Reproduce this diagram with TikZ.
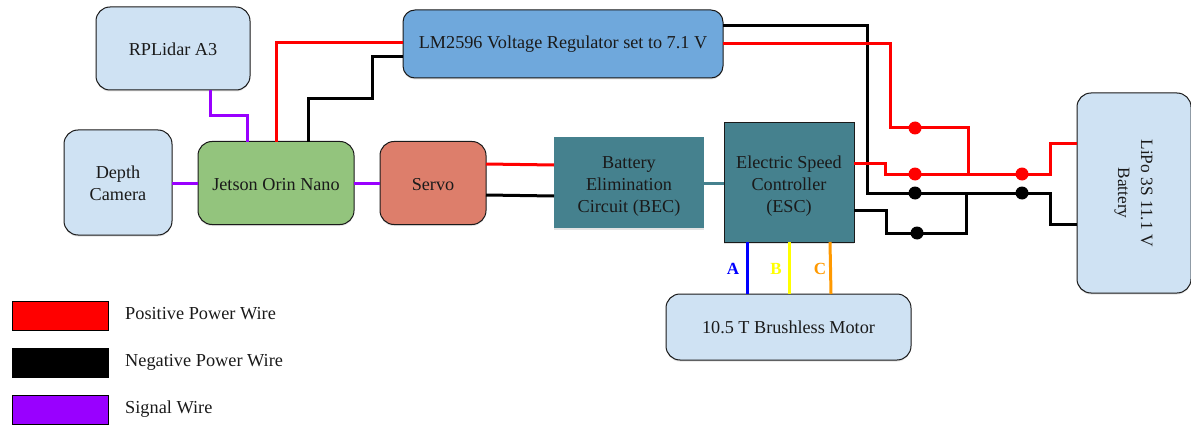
\documentclass[tikz,border=0pt]{standalone}
\usepackage{fontspec}
\setmainfont{Liberation Serif}
\usetikzlibrary{shadows,calc}
\definecolor{lblue}{HTML}{CFE2F3}
\definecolor{jgreen}{HTML}{93C47D}
\definecolor{servoc}{HTML}{DD7E6B}
\definecolor{lmblue}{HTML}{6FA8DC}
\definecolor{teal2}{HTML}{45818E}
\definecolor{sigc}{HTML}{9900FF}
\definecolor{ink}{HTML}{1A1A1A}
\definecolor{orangew}{HTML}{FF9900}
\definecolor{yelw}{HTML}{FFFF00}
\definecolor{bluew}{HTML}{0000FF}
\newcommand{\dnrule}[1]{\rule{0pt}{#1}}
\tikzset{
  boxbase/.style={draw=ink,line width=1pt,rounded corners=14pt,text=ink,align=center,inner sep=0pt,
    font=\fontsize{18.2}{22}\selectfont,
    drop shadow={shadow xshift=0pt,shadow yshift=-1.5pt,opacity=.22}},
  sharpbox/.style={boxbase,rounded corners=0pt,fill=teal2},
  wire/.style={line width=3pt,line join=miter},
  redw/.style={wire,draw=red},
  blkw/.style={wire,draw=black},
  sigw/.style={wire,draw=sigc},
  jdot/.style={circle,inner sep=0pt,minimum size=13pt},
  legbox/.style={draw=black,line width=1pt,minimum width=96pt,minimum height=29pt,inner sep=0pt},
  legtxt/.style={anchor=west,text=ink,font=\fontsize{18.3}{20}\selectfont,inner sep=0pt},
  phase/.style={font=\fontsize{17}{18}\selectfont\bfseries,inner sep=0pt},
}
\begin{document}
\begin{tikzpicture}[x=1pt,y=-1pt]
\useasboundingbox (0,0) rectangle (1191,425);
\coordinate (lidarS) at (210,90);
\coordinate (jetA) at (247,142);
\coordinate (jetB) at (276,142);
\coordinate (jetC) at (308,142);
\coordinate (lmA) at (403,43);
\coordinate (lmB) at (403,57);
\coordinate (lmC) at (723,26);
\coordinate (lmD) at (723,44);
\coordinate (batA) at (1077,144);
\coordinate (batB) at (1077,224);
\coordinate (escA) at (854,163);
\coordinate (escB) at (854,210);
\coordinate (srvA) at (486,164);
\coordinate (srvB) at (486,195);
\coordinate (becA) at (554,165);
\coordinate (becB) at (554,196);
\coordinate (escU) at (747,242);
\coordinate (escV) at (789,242);
\coordinate (escW) at (830,242);
\coordinate (motU) at (747,294);
\coordinate (motV) at (789,294);
\coordinate (motW) at (831,294);
\coordinate (depE) at (172,183);
\coordinate (jetW) at (198,183);
\coordinate (jetE) at (354,183);
\coordinate (srvW) at (380,183);
\coordinate (becE) at (704,183);
\coordinate (escW2) at (724,183);

\node[boxbase,fill=lblue,minimum width=154pt,minimum height=83pt] (lidar) at (173,48.5) {\dnrule{14pt}RPLidar A3};
\node[boxbase,fill=lblue,minimum width=108pt,minimum height=105pt] (depth) at (118,182.5) {\dnrule{14pt}Depth\\Camera};
\node[boxbase,fill=jgreen,minimum width=156pt,minimum height=83pt] (jetson) at (276,183) {\dnrule{16pt}Jetson Orin Nano};
\node[boxbase,fill=servoc,minimum width=106pt,minimum height=83pt] (servo) at (433,183) {\dnrule{16pt}Servo};
\node[boxbase,fill=lmblue,rounded corners=12pt,minimum width=320pt,minimum height=68pt] (lm) at (563,44) {LM2596 Voltage Regulator set to 7.1 V};
\node[sharpbox,draw=none,minimum width=150pt,minimum height=91pt] (bec) at (629,182.5) {\dnrule{20pt}Battery\\Elimination\\Circuit (BEC)};
\node[sharpbox,minimum width=130pt,minimum height=119pt] (esc) at (789,182.5) {\dnrule{20pt}Electric Speed\\Controller\\(ESC)};
\node[boxbase,fill=lblue,minimum width=245pt,minimum height=66pt] (motor) at (788.5,327) {\dnrule{14pt}10.5 T Brushless Motor};
\node[boxbase,fill=lblue,minimum width=114pt,minimum height=200pt] (bat) at (1134,193) {};
\node[rotate=-90,align=center,text=ink,inner sep=0pt,font=\fontsize{17.3}{23}\selectfont] (battxt) at (1133.5,193) {LiPo 3S 11.1 V\\Battery};

% signal
\draw[sigw] (lidarS) -- (210,116) -- (247,116) -- (jetA);
\draw[sigw] (depE) -- (jetW);
\draw[sigw] (jetE) -- (srvW);
% regulator to Jetson
\draw[redw] (jetB) -- (276,43) -- (lmA);
\draw[blkw] (jetC) -- (308,99) -- (372,99) -- (372,57) -- (lmB);
% servo to BEC
\draw[redw] (srvA) -- (becA);
\draw[blkw] (srvB) -- (becB);
\draw[draw=teal2,line width=3pt] (becE) -- (escW2);

\coordinate (r1p) at (915,128);
\coordinate (r2p) at (915,174);
\coordinate (r3p) at (1022,174);
\coordinate (k1p) at (915,193);
\coordinate (k2p) at (917,233);
\coordinate (k3p) at (1022,193);
% battery network
\draw[blkw] (lmC) -- (867,26) -- (867,193) -- (k1p) -- (k3p) -- (1050,193) -- (1050,224) -- (batB);
\draw[blkw] (escB) -- (886,210) -- (886,233) -- (k2p) -- (966,233) -- (966,193);
\draw[redw] (lmD) -- (890,44) -- (890,128) -- (r1p) -- (968,128) -- (968,174);
\draw[redw] (escA) -- (885,163) -- (885,174) -- (r2p) -- (r3p) -- (1050,174) -- (1050,144) -- (batA);
\node[jdot,fill=red] (r1) at (r1p) {};
\node[jdot,fill=red] (r2) at (r2p) {};
\node[jdot,fill=red] (r3) at (r3p) {};
\node[jdot,fill=black] (k1) at (k1p) {};
\node[jdot,fill=black] (k2) at (k2p) {};
\node[jdot,fill=black] (k3) at (k3p) {};
% motor phases
\draw[draw=bluew,line width=3pt] (escU) -- (motU);
\draw[draw=yelw,line width=3pt] (escV) -- (motV);
\draw[draw=orangew,line width=3pt] (escW) -- (motW);
\node[phase,text=bluew] (la) at (733,269) {A};
\node[phase,text=yelw] (lb) at (776,269) {B};
\node[phase,text=orangew] (lc) at (820,269) {C};
% legend
\node[legbox,fill=red] (lg1) at (60,315.5) {};
\node[legbox,fill=black] (lg2) at (60,362.5) {};
\node[legbox,fill=sigc] (lg3) at (60,409.5) {};
\node[legtxt] (lt1) at (125,314) {Positive Power Wire};
\node[legtxt] (lt2) at (125,362) {Negative Power Wire};
\node[legtxt] (lt3) at (125,409) {Signal Wire};
\end{tikzpicture}
\end{document}
